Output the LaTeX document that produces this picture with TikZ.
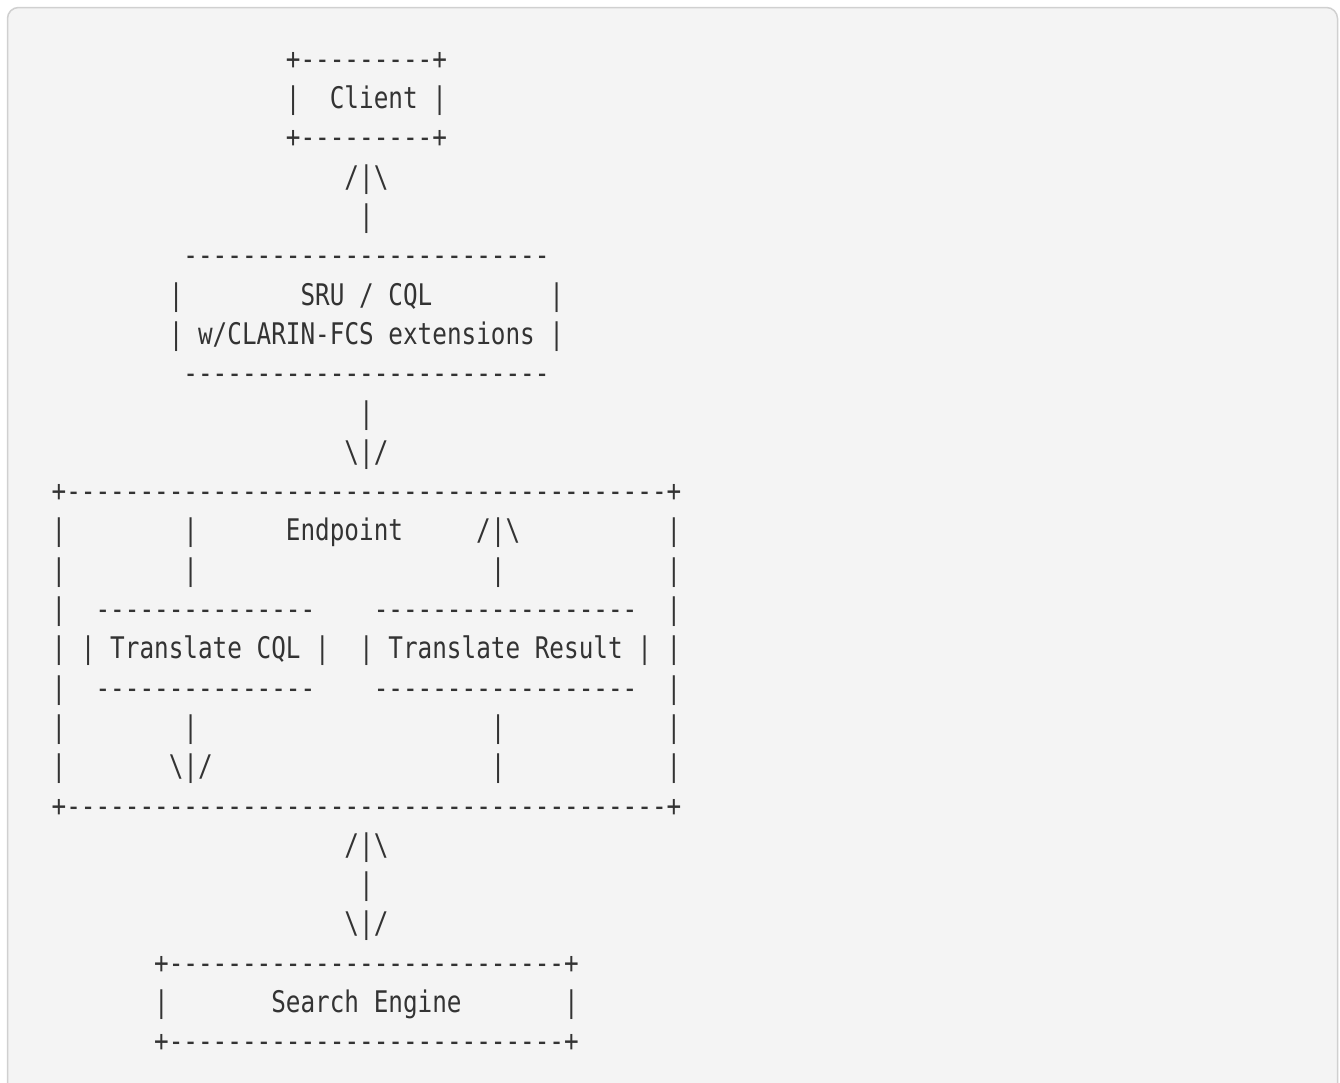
\documentclass[tikz,border=0pt]{standalone}
\usepackage{fontspec}
\setmonofont[FakeStretch=0.817]{DejaVu Sans Mono}
\ExplSyntaxOn
\newcommand\rdash[1]{\prg_replicate:nn{#1}{-}}
\ExplSyntaxOff
\newcommand\bs{\textbackslash}
\definecolor{codebg}{HTML}{F4F4F4}
\definecolor{codeborder}{HTML}{D0D0D0}
\definecolor{codefg}{HTML}{333333}
\tikzset{
  txt/.style={anchor=base west, inner sep=0pt, outer sep=0pt, text=codefg,
    font=\ttfamily\fontsize{29.77bp}{35bp}\selectfont}
}
\newcommand\asc[4]{\node[txt] (#1) at ({51.68+#3*14.64},{69.3+#2*39.3}) {#4};}
\begin{document}
\begin{tikzpicture}[x=1bp,y=-1bp]
\useasboundingbox (0,0) rectangle (1340,1082);
\clip (0,0) rectangle (1340,1082);
\fill[white] (0,0) rectangle (1340,1082);
\draw[codeborder, fill=codebg, line width=1.5bp, rounded corners=11bp]
  (7.5,7.5) rectangle (1337.5,1120);
% Client box
\asc{clientTop}{0}{16}{+\rdash{9}+}
\asc{clientL}{1}{16}{|}
\asc{client}{1}{19}{Client |}
\asc{clientBot}{2}{16}{+\rdash{9}+}
\asc{upA}{3}{20}{/|\bs}
\asc{upB}{4}{21}{|}
% SRU box
\asc{sruTop}{5}{9}{\rdash{25}}
\asc{sruL}{6}{8}{|}
\asc{sru}{6}{17}{SRU / CQL}
\asc{sruR}{6}{34}{|}
\asc{sruExt}{7}{8}{| w/CLARIN-FCS extensions |}
\asc{sruBot}{8}{9}{\rdash{25}}
\asc{downA}{9}{21}{|}
\asc{downB}{10}{20}{\bs|/}
% Endpoint box
\asc{epTop}{11}{0}{+\rdash{41}+}
\asc{epL1}{12}{0}{|}
\asc{epA1}{12}{9}{|}
\asc{ep}{12}{16}{Endpoint}
\asc{epUp}{12}{29}{/|\bs}
\asc{epR1}{12}{42}{|}
\asc{epL2}{13}{0}{|}
\asc{epA2}{13}{9}{|}
\asc{epB2}{13}{30}{|}
\asc{epR2}{13}{42}{|}
\asc{epL3}{14}{0}{|}
\asc{tcqlTop}{14}{3}{\rdash{15}}
\asc{trTop}{14}{22}{\rdash{18}}
\asc{epR3}{14}{42}{|}
\asc{tcql}{15}{0}{| | Translate CQL |}
\asc{tr}{15}{21}{| Translate Result | |}
\asc{epL5}{16}{0}{|}
\asc{tcqlBot}{16}{3}{\rdash{15}}
\asc{trBot}{16}{22}{\rdash{18}}
\asc{epR5}{16}{42}{|}
\asc{epL6}{17}{0}{|}
\asc{epA6}{17}{9}{|}
\asc{epB6}{17}{30}{|}
\asc{epR6}{17}{42}{|}
\asc{epL7}{18}{0}{|}
\asc{epDown}{18}{8}{\bs|/}
\asc{epB7}{18}{30}{|}
\asc{epR7}{18}{42}{|}
\asc{epBot}{19}{0}{+\rdash{41}+}
% bidirectional arrow
\asc{biA}{20}{20}{/|\bs}
\asc{biB}{21}{21}{|}
\asc{biC}{22}{20}{\bs|/}
% Search engine box
\asc{seTop}{23}{7}{+\rdash{27}+}
\asc{seL}{24}{7}{|}
\asc{se}{24}{15}{Search Engine}
\asc{seR}{24}{35}{|}
\asc{seBot}{25}{7}{+\rdash{27}+}
\end{tikzpicture}
\end{document}
